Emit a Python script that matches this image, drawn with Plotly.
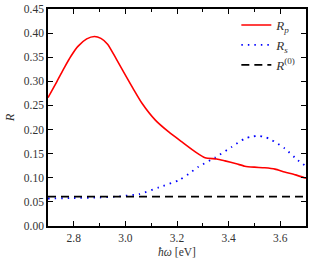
import plotly.graph_objects as go

# Data
rp_x = [2.70, 2.735, 2.764, 2.790, 2.815, 2.850, 2.880, 2.905, 2.931, 2.965, 3.000, 3.030, 3.065, 3.117, 3.168, 3.219, 3.271, 3.309, 3.354, 3.386, 3.430, 3.463, 3.500, 3.540, 3.580, 3.617, 3.660, 3.70]
rp_y = [0.266, 0.300, 0.329, 0.353, 0.372, 0.388, 0.393, 0.389, 0.377, 0.346, 0.313, 0.285, 0.254, 0.219, 0.195, 0.1744, 0.1537, 0.1413, 0.139, 0.135, 0.129, 0.124, 0.122, 0.1207, 0.118, 0.112, 0.106, 0.099]

rs_x = [2.70, 2.80, 2.90, 2.976, 3.053, 3.130, 3.207, 3.245, 3.283, 3.348, 3.412, 3.463, 3.490, 3.515, 3.540, 3.565, 3.617, 3.668, 3.70]
rs_y = [0.057, 0.058, 0.059, 0.0615, 0.0663, 0.080, 0.095, 0.108, 0.1228, 0.142, 0.164, 0.1814, 0.1855, 0.1868, 0.1845, 0.179, 0.161, 0.1366, 0.124]

r0_x = [2.70, 3.70]
r0_y = [0.061, 0.061]

x_ticks = [2.8, 3.0, 3.2, 3.4, 3.6]
y_ticks = [0.00, 0.05, 0.10, 0.15, 0.20, 0.25, 0.30, 0.35, 0.40, 0.45]

font_fam = "'Liberation Serif', 'DejaVu Serif', serif"

fig = go.Figure()
fig.add_trace(go.Scatter(x=rp_x, y=rp_y, mode="lines", line=dict(color="#ff0000", width=1.6, shape="spline", smoothing=0.6),
                         name="<i>R</i><sub><i>p</i></sub>"))
fig.add_trace(go.Scatter(x=rs_x, y=rs_y, mode="lines", line=dict(color="#0000ff", width=1.8, shape="spline", smoothing=0.6, dash="1.5px,5px"),
                         name="<i>R</i><sub><i>s</i></sub>"))
fig.add_trace(go.Scatter(x=r0_x, y=r0_y, mode="lines", line=dict(color="#000000", width=1.6, dash="8px,5px"),
                         name="<i>R</i><sup>(0)</sup>"))

axis_common = dict(showgrid=False, zeroline=False, showline=True, linecolor="black", linewidth=1.5,
                   mirror="allticks", ticks="inside", ticklen=5, tickwidth=1, tickcolor="black",
                   tickfont=dict(family=font_fam, size=11.5, color="#333"))

fig.update_xaxes(range=[2.7, 3.7], tickvals=x_ticks, ticktext=[f"{v:.1f}" for v in x_ticks],
                 minor=dict(dtick=0.1, tick0=2.7, ticks="inside", ticklen=3, tickcolor="black"),
                 title=dict(text="<i>ħω</i> [eV]", font=dict(family=font_fam, size=11.5, color="#333"), standoff=5),
                 **axis_common)
fig.update_yaxes(range=[0, 0.45], tickvals=y_ticks, ticktext=[f"{v:.2f}" for v in y_ticks],
                 title=dict(text="<i>R</i>", font=dict(family=font_fam, size=12.5, color="#333"), standoff=6),
                 **axis_common)

fig.update_layout(width=311, height=261, margin=dict(l=48, r=3, t=8, b=35),
                  paper_bgcolor="white", plot_bgcolor="white",
                  font=dict(family=font_fam, size=11, color="#333"),
                  legend=dict(x=0.73, y=0.995, xanchor="left", yanchor="top", bgcolor="rgba(0,0,0,0)",
                              font=dict(family=font_fam, size=13, color="#333"), tracegroupgap=0,
                              itemwidth=30))

fig.write_html("out.html", config={"displayModeBar": False},
               post_script="document.body.style.margin='0';document.body.style.padding='0';")
